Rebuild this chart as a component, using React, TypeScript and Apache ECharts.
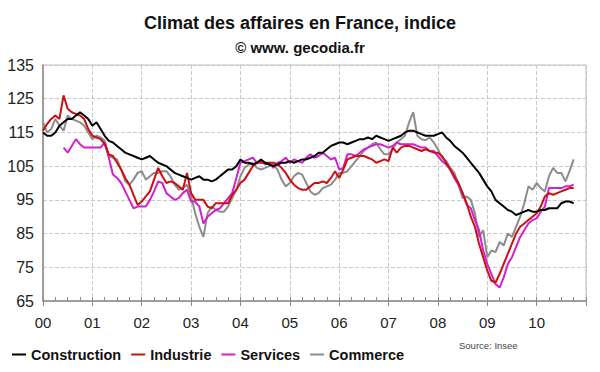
import React, { useEffect, useRef } from 'react';
import * as echarts from 'echarts';

const FONT = '"Liberation Sans", Arial, Helvetica, sans-serif';

const yearLabels = ['00', '01', '02', '03', '04', '05', '06', '07', '08', '09', '10'];
const seriesNames = ['Construction', 'Industrie', 'Services', 'Commerce'];
const seriesColors = ['#000000', '#cc1010', '#d020d0', '#8c8c8c'];

// Monthly values, Jan 2000 .. Oct 2010
const construction = [
  115, 114, 114, 115, 117, 118, 119, 119, 120, 121, 120, 119,
  117, 118, 116, 114, 112.5, 112, 111, 110, 109, 108.5, 108, 107.5,
  107, 107.5, 108, 107, 106, 105.5, 105, 104, 103, 102.5, 102, 101.5,
  101, 101.5, 102, 101, 101, 100.5, 101, 102, 103, 104, 104, 105,
  107, 106, 106, 105.5, 106, 107, 106, 105.5, 105, 105.5, 106, 106,
  106.5, 106, 106.5, 107, 107, 107.5, 108, 109, 109, 110, 111, 111.5,
  112, 112, 111.5, 112, 112.5, 113, 113, 113.5, 113, 114, 113.5, 113,
  112.5, 113, 113.5, 114, 115, 115.5, 115.5, 115, 114.5, 114, 114, 114,
  114.5, 115, 113.5, 112.5, 111, 110, 109, 107.5, 106, 104.5, 103, 101,
  99, 97.5, 95, 94, 93, 92, 91.5, 90.5, 91, 91.5, 92, 91.5,
  91.5, 92, 92, 92.5, 92.5, 92.5, 94, 94.5, 94.5, 94,
];

const industrie = [
  115.5, 117.5, 119, 120, 119, 126, 122, 121, 120.5, 120, 119, 116,
  114, 113.5, 113, 111.5, 108.5, 108, 106, 104, 101.5, 99.5, 96.5, 93.5,
  94.5, 96, 97.5, 101, 104.5, 102, 100, 100.5, 100, 99, 98, 103,
  97, 95, 95, 95, 93, 92.5, 94, 94, 94, 94, 96.5, 98,
  100, 101, 103, 105, 106, 106, 106, 106, 106, 105.5, 104.5, 103,
  101, 99.5, 98.5, 98, 98, 99, 100, 100, 100.5, 100, 101.5, 103.5,
  101.5, 104, 107, 107.5, 108, 108, 108, 107.5, 107, 106, 106.5, 107,
  106.5, 110.5, 109, 110.5, 111, 111, 110.5, 110, 109.5, 110, 109.5, 109,
  109, 108, 106, 104, 102, 100, 97, 94, 90, 87, 82, 78,
  74, 71, 70.5, 73, 76, 79, 82, 85, 87, 88, 89, 90,
  91, 93, 96, 97, 96.5, 97, 97.5, 98, 98.5, 98.5,
];

const services = [
  null, null, null, null, null, 110.5, 109, 111, 113, 111.5, 110.5, 110.5,
  110.5, 110.5, 110.5, 112, 107.5, 102.5, 101.5, 100, 97.5, 95, 92.5, 93,
  93, 93, 95, 97.5, 100.5, 100, 97, 96, 95, 95.5, 97, 98,
  94.5, 94.5, 93, 88, 90, 91, 92, 92.5, 94, 95.5, 97, 101.5,
  106, 106.5, 107, 107.5, 106, 106.5, 105.5, 106, 104.5, 106, 106.5, 107.5,
  106, 107, 106.5, 106, 107.5, 108.5, 107.5, 108, 109, 108, 107, 107.5,
  104, 104.5, 108.5, 108.5, 108, 109, 110, 110.5, 111, 111.5, 111.5, 111,
  110.5, 111, 112, 111.5, 111.5, 111.5, 111.5, 111, 110.5, 110.5, 109.5, 109.5,
  108, 106.5, 105.5, 104, 101.5, 99.5, 97, 93.5, 92.5, 89, 86, 80,
  76, 73, 70, 69, 72, 76, 78, 81, 84, 86, 88, 89,
  89.5, 91.5, 93, 98.5, 98.5, 98.5, 98.5, 99, 99, 99.5,
];

const commerce = [
  118, 115, 116, 119, 117, 115.5, 120, 119, 118.5, 118, 117, 115,
  113, 114, 113.5, 112.5, 108, 107.5, 107, 104, 100.5, 99.5, 101, 103,
  103.5, 101, 102, 103, 103, 103.5, 103.5, 102, 99.5, 98, 98.5, 99.5,
  96, 91, 87, 84, 91, 93, 92, 91.5, 91.5, 93, 95.5, 98,
  102, 104.5, 105.5, 106, 104.5, 104, 104.5, 105, 105.5, 104, 101, 99,
  100, 102, 103, 102.5, 100, 97.5, 96.5, 97, 98.5, 99, 99.5, 101,
  103, 103, 103.5, 105, 106.5, 108, 109.5, 110.5, 111.5, 112, 110, 108.5,
  108.5, 110, 112, 113, 114, 118, 121, 114, 113, 112.7, 113.5, 112,
  110, 107.5, 106.5, 104.5, 103, 99.5, 95.5, 96, 95, 91, 84, 86,
  78, 80, 79.5, 82.5, 81.5, 85, 84, 87, 90, 94, 99, 98,
  100, 98.5, 97.5, 102, 104.5, 103, 103, 100.5, 103.5, 107,
];

const allSeries = [construction, industrie, services, commerce];

function toPairs(arr: (number | null)[]) {
  const out: [number, number][] = [];
  arr.forEach((v, i) => {
    if (v !== null) out.push([i, v]);
  });
  return out;
}

export default function App() {
  const ref = useRef<HTMLDivElement>(null);

  useEffect(() => {
    if (!ref.current) return;
    const chart = echarts.init(ref.current, undefined, { renderer: 'svg' });
    const option: any = {
      animation: false,
      backgroundColor: '#ffffff',
      title: {
        text: 'Climat des affaires en France, indice',
        subtext: '© www. gecodia.fr',
        left: 'center',
        top: 9,
        itemGap: 8,
        textStyle: { fontFamily: FONT, fontSize: 18, fontWeight: 'bold', color: '#111' },
        subtextStyle: { fontFamily: FONT, fontSize: 15, fontWeight: 'bold', color: '#111' },
      },
      legend: {
        left: 7,
        top: 342,
        icon: 'rect',
        itemWidth: 14,
        itemHeight: 2,
        itemGap: 10,
        textStyle: { fontFamily: FONT, fontSize: 14.5, fontWeight: 'bold', color: '#111' },
        data: seriesNames,
      },
      grid: {
        left: 43,
        right: 14,
        top: 65,
        bottom: 71,
        show: true,
        borderColor: '#bdbdbd',
        borderWidth: 1,
      },
      xAxis: [
        {
          type: 'value',
          min: 0,
          max: 132,
          interval: 12,
          axisLine: { show: true, lineStyle: { color: '#8a8a8a', width: 1.5 } },
          axisTick: { show: true, length: 5, lineStyle: { color: '#8a8a8a' } },
          axisLabel: {
            formatter: (v: number) => yearLabels[v / 12] ?? '',
            fontFamily: FONT,
            fontSize: 15,
            color: '#222',
            margin: 14,
          },
          splitLine: { show: true, lineStyle: { type: 'dashed', color: '#c8c8c8' } },
        },
        {
          type: 'value',
          min: 0,
          max: 132,
          interval: 3,
          position: 'bottom',
          axisLine: { show: false },
          axisTick: { show: true, inside: true, length: 4, lineStyle: { color: '#8a8a8a' } },
          axisLabel: { show: false },
          splitLine: { show: false },
        },
      ],
      yAxis: {
        type: 'value',
        min: 65,
        max: 135,
        interval: 10,
        axisLine: { show: true, lineStyle: { color: '#8a8a8a', width: 1.5 } },
        axisTick: { show: false },
        axisLabel: { fontFamily: FONT, fontSize: 16, color: '#222', margin: 9 },
        splitLine: { show: true, lineStyle: { type: 'dashed', color: '#c8c8c8' } },
      },
      graphic: [
        {
          type: 'text',
          left: 459,
          top: 340,
          style: { text: 'Source: Insee', fontFamily: FONT, fontSize: 9.5, fill: '#444' },
        },
      ],
      series: allSeries.map((arr, k) => ({
        name: seriesNames[k],
        type: 'line',
        xAxisIndex: 0,
        data: toPairs(arr),
        showSymbol: false,
        symbol: 'none',
        lineStyle: { color: seriesColors[k], width: 2 },
        itemStyle: { color: seriesColors[k] },
        z: 10 - k,
      })),
    };
    chart.setOption(option);
    return () => chart.dispose();
  }, []);

  return (
    <div
      ref={ref}
      style={{ position: 'fixed', left: 0, top: 0, width: 600, height: 372, background: '#fff' }}
    />
  );
}
